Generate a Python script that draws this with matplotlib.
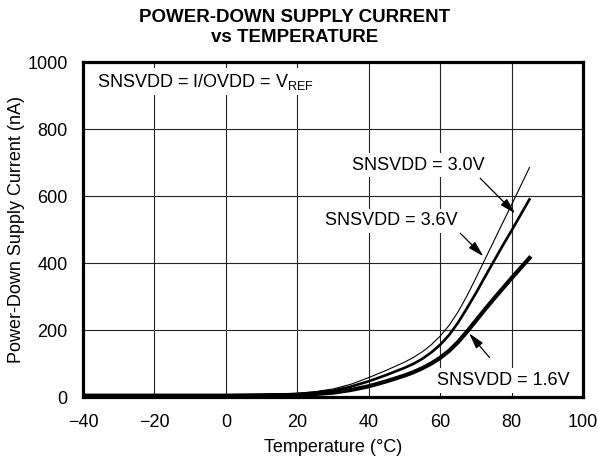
import matplotlib
matplotlib.use("Agg")
import matplotlib.pyplot as plt

plt.rcParams["font.family"] = ["Liberation Sans", "DejaVu Sans"]
plt.rcParams["mathtext.default"] = "regular"

# temperature (deg C)
temp = [-40, -30, -20, -10, 0, 10, 20, 25, 30, 35, 40, 45, 50, 52.5, 55, 57.5,
        60, 62.5, 65, 67.5, 70, 72.5, 75, 77.5, 80, 85]

# power-down supply current (nA)
i_36v = [6, 6, 6, 6, 6, 7, 11, 16, 24, 38, 58, 80, 104, 118, 135, 156,
         182, 214, 254, 302, 355, 410, 465, 520, 574, 685]
i_30v = [5, 5, 5, 5, 5, 6, 9, 13, 19, 31, 47, 66, 87, 99, 114, 133,
         156, 185, 222, 265, 310, 358, 405, 452, 497, 590]
i_16v = [4, 4, 4, 4, 4, 5, 6, 9, 13, 21, 32, 47, 64, 74, 86, 100,
         117, 138, 164, 195, 228, 261, 293, 324, 355, 415]

xticks = [-40, -20, 0, 20, 40, 60, 80, 100]
yticks = [0, 200, 400, 600, 800, 1000]

fig = plt.figure(figsize=(5.98, 4.69), dpi=100)
ax = fig.add_axes([0.1388, 0.1535, 0.8362, 0.7143])

ax.plot(temp, i_36v, color="black", lw=0.8, zorder=4)
ax.plot(temp, i_30v, color="black", lw=1.9, zorder=4)
ax.plot(temp, i_16v, color="black", lw=3.0, zorder=4)

ax.set_xlim(-40, 100)
ax.set_ylim(0, 1000)
ax.set_xticks(xticks)
ax.set_yticks(yticks)
ax.grid(True, color="#222222", lw=0.8)
ax.set_axisbelow(True)
ax.tick_params(length=0, labelsize=13)
ax.tick_params(axis="x", pad=12)
ax.tick_params(axis="y", pad=11)
for s in ax.spines.values():
    s.set_linewidth(2.3)
    s.set_zorder(5)

ax.set_xlabel("Temperature (°C)", fontsize=13)
ax.xaxis.set_label_coords(0.5, -0.125)
ax.set_ylabel("Power-Down Supply Current (nA)", fontsize=13)
ax.yaxis.set_label_coords(-0.115, 0.5)

fig.text(0.492, 0.98, "POWER-DOWN SUPPLY CURRENT\nvs TEMPERATURE",
         ha="center", va="top", fontsize=13.5, fontweight="bold", linespacing=1.2)

box = dict(boxstyle="square,pad=0.2", fc="white", ec="none")
ax.text(-36.1, 926, r"SNSVDD = I/OVDD = V$_{REF}$", fontsize=13,
        ha="left", va="baseline", bbox=box, zorder=3)

arrow = dict(arrowstyle="-|>,head_length=0.8,head_width=0.22", color="black",
             lw=0.9, shrinkA=0, shrinkB=0, mutation_scale=12)
ax.annotate("", xy=(81, 548), xytext=(71.2, 653), arrowprops=arrow, zorder=6)
ax.annotate("", xy=(72.1, 420), xytext=(65.6, 489), arrowprops=arrow, zorder=6)
ax.annotate("", xy=(68.1, 190), xytext=(73.8, 118), arrowprops=arrow, zorder=6)

ax.text(35.2, 678, "SNSVDD = 3.0V", fontsize=13, ha="left", va="baseline",
        bbox=box, zorder=3)
ax.text(27.8, 513, "SNSVDD = 3.6V", fontsize=13, ha="left", va="baseline",
        bbox=box, zorder=3)
ax.text(59.0, 36, "SNSVDD = 1.6V", fontsize=13, ha="left", va="baseline",
        bbox=box, zorder=3)

fig.savefig("out.png", dpi=100)
